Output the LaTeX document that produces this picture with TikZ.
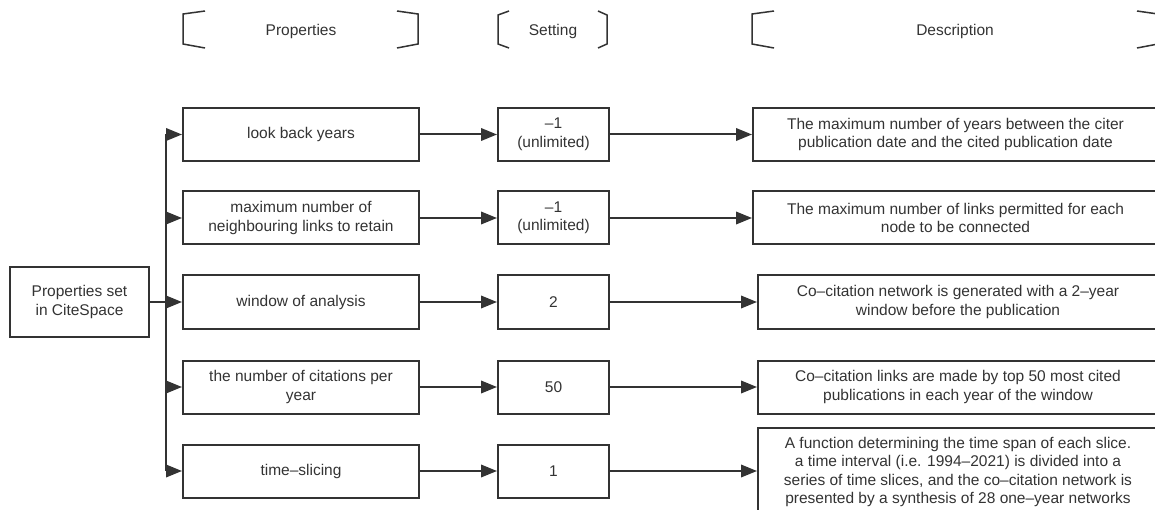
\documentclass[tikz,border=0pt]{standalone}
\usepackage{fontspec}
\setmainfont{Liberation Sans}
\usetikzlibrary{arrows.meta}
\definecolor{linegray}{HTML}{333333}
\definecolor{textgray}{HTML}{333333}
\begin{document}
\begin{tikzpicture}[x=1pt, y=-1pt, >={Triangle[length=16pt,width=12.5pt]},
	every node/.style={font=\fontsize{15.5}{18.5}\selectfont, text=textgray},
	box/.style={draw=linegray, line width=2pt, inner sep=0pt, align=center, minimum height=53pt},
	propbox/.style={box, minimum width=236pt},
	setbox/.style={box, minimum width=111pt},
	descbox/.style={box, minimum width=400pt},
	link/.style={draw=linegray, line width=2pt},
	brack/.style={draw=linegray, line width=1.5pt}]
	% ==== 画布 ====
	\useasboundingbox (0,0) rectangle (1155,510);
	\clip (0,0) rectangle (1155,510);
	
	% ==== 表头 ====
	\draw[brack] (205,11) -- (183,14) -- (183,44) -- (205,48);
	\draw[brack] (397,11) -- (418,14) -- (418,44) -- (397,48);
	\node (hprop) at (301,31) {Properties};
	\draw[brack] (509,11) -- (498,15) -- (498,44) -- (509,48);
	\draw[brack] (598,11) -- (607,15) -- (607,44) -- (598,48);
	\node (hset) at (553,31) {Setting};
	\draw[brack] (774,11) -- (752,14) -- (752,44) -- (774,48);
	\draw[brack] (1137,11) -- (1158,14) -- (1158,44) -- (1137,48);
	\node (hdesc) at (955,31) {Description};
	
	% ==== 根节点 ====
	\node[box, minimum width=139pt, minimum height=70pt] (root) at (79.5,302) {Properties set\\in CiteSpace};
	
	% ==== 属性 ====
	\node[propbox] (prop1) at (301,134.5) {look back years};
	\node[propbox] (prop2) at (301,218) {maximum number of\\neighbouring links to retain};
	\node[propbox] (prop3) at (301,302) {window of analysis};
	\node[propbox] (prop4) at (301,387) {the number of citations per\\year};
	\node[propbox] (prop5) at (301,471) {time–slicing};
	
	% ==== 设置 ====
	\node[setbox] (set1) at (553.5,134.5) {–1\\(unlimited)};
	\node[setbox] (set2) at (553.5,218) {–1\\(unlimited)};
	\node[setbox] (set3) at (553.5,302) {2};
	\node[setbox] (set4) at (553.5,387) {50};
	\node[setbox] (set5) at (553.5,471) {1};
	
	% ==== 说明 ====
	\node[descbox, minimum width=405pt] (desc1) at (955.5,134.5) {The maximum number of years between the citer\\publication date and the cited publication date};
	\node[descbox, minimum width=405pt] (desc2) at (955.5,218) {The maximum number of links permitted for each\\node to be connected};
	\node[descbox] (desc3) at (958,302) {Co–citation network is generated with a 2–year\\window before the publication};
	\node[descbox] (desc4) at (958,387) {Co–citation links are made by top 50 most cited\\publications in each year of the window};
	\node[descbox, minimum height=88pt] (desc5) at (958,472) {A function determining the time span of each slice.\\a time interval (i.e. 1994–2021) is divided into a\\series of time slices, and the co–citation network is\\presented by a synthesis of 28 one–year networks};
	
	% ==== 连线 ====
	\coordinate (trunk) at (166,302);
	\draw[link] (root.east) -- (trunk);
	\draw[link] (trunk |- prop1.west) -- (trunk |- prop5.west);
	\foreach \i in {1,...,5} {
		\draw[link, ->] (trunk |- prop\i.west) -- (prop\i.west);
		\draw[link, ->] (prop\i.east) -- (set\i.west);
		\draw[link, ->] (set\i.east) -- (set\i.east -| desc\i.west);
	}
\end{tikzpicture}
\end{document}
